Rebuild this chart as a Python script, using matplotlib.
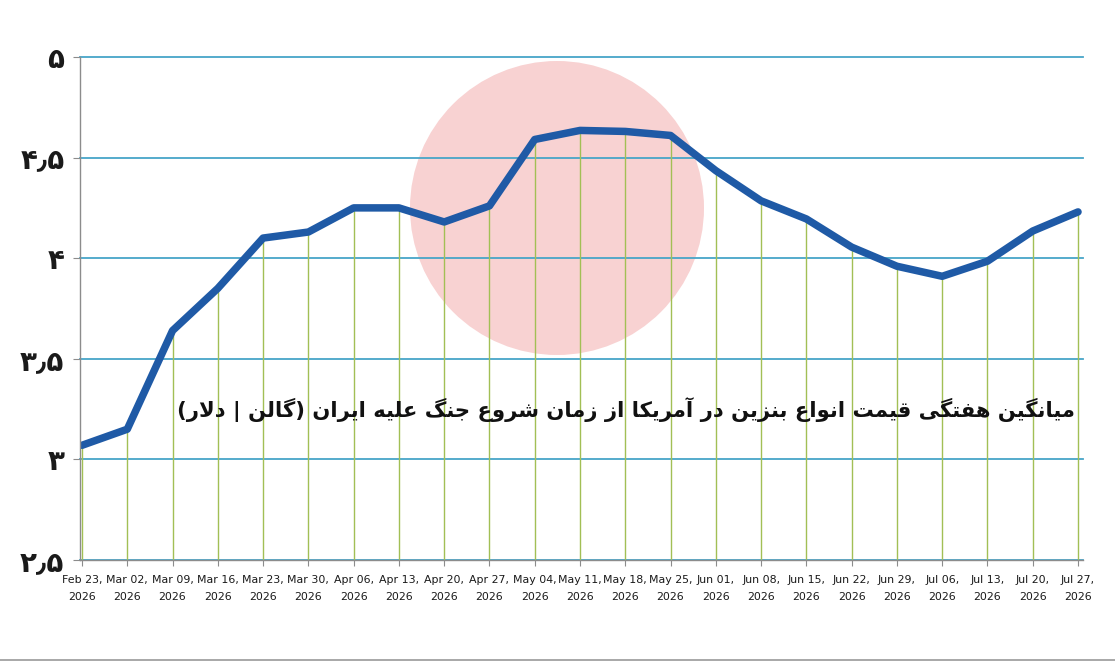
import matplotlib
matplotlib.use("Agg")
import matplotlib.pyplot as plt
from matplotlib.patches import Ellipse

# weekly average US gasoline price (USD per gallon)
dates = [
    "Feb 23", "Mar 02", "Mar 09", "Mar 16", "Mar 23", "Mar 30", "Apr 06", "Apr 13",
    "Apr 20", "Apr 27", "May 04", "May 11", "May 18", "May 25", "Jun 01", "Jun 08",
    "Jun 15", "Jun 22", "Jun 29", "Jul 06", "Jul 13", "Jul 20", "Jul 27",
]
year = "2026"
prices = [
    3.07, 3.15, 3.64, 3.85, 4.10, 4.13, 4.25, 4.25,
    4.18, 4.26, 4.59, 4.635, 4.63, 4.61, 4.435, 4.285,
    4.195, 4.055, 3.96, 3.91, 3.985, 4.135, 4.23,
]
y_ticks = [2.5, 3.0, 3.5, 4.0, 4.5, 5.0]
y_tick_labels = ["۲٫۵", "۳", "۳٫۵", "۴", "۴٫۵", "۵"]
title = "میانگین هفتگی قیمت انواع بنزین در آمریکا از زمان شروع جنگ علیه ایران (گالن | دلار)"


# matplotlib does no Arabic shaping, so pick contextual forms by hand
# letter: (isolated, final, initial, medial)
FORMS = {
    "ا": ("\uFE8D", "\uFE8E", None, None),
    "آ": ("\uFE81", "\uFE82", None, None),
    "ب": ("\uFE8F", "\uFE90", "\uFE91", "\uFE92"),
    "ت": ("\uFE95", "\uFE96", "\uFE97", "\uFE98"),
    "ج": ("\uFE9D", "\uFE9E", "\uFE9F", "\uFEA0"),
    "د": ("\uFEA9", "\uFEAA", None, None),
    "ر": ("\uFEAD", "\uFEAE", None, None),
    "ز": ("\uFEAF", "\uFEB0", None, None),
    "ش": ("\uFEB5", "\uFEB6", "\uFEB7", "\uFEB8"),
    "ع": ("\uFEC9", "\uFECA", "\uFECB", "\uFECC"),
    "ف": ("\uFED1", "\uFED2", "\uFED3", "\uFED4"),
    "ق": ("\uFED5", "\uFED6", "\uFED7", "\uFED8"),
    "ل": ("\uFEDD", "\uFEDE", "\uFEDF", "\uFEE0"),
    "م": ("\uFEE1", "\uFEE2", "\uFEE3", "\uFEE4"),
    "ن": ("\uFEE5", "\uFEE6", "\uFEE7", "\uFEE8"),
    "ه": ("\uFEE9", "\uFEEA", "\uFEEB", "\uFEEC"),
    "و": ("\uFEED", "\uFEEE", None, None),
    "ی": ("\uFBFC", "\uFBFD", "\uFBFE", "\uFBFF"),
    "ک": ("\uFB8E", "\uFB8F", "\uFB90", "\uFB91"),
    "گ": ("\uFB92", "\uFB93", "\uFB94", "\uFB95"),
}
LAM_ALEF = {"ا": ("\uFEFB", "\uFEFC"), "آ": ("\uFEF5", "\uFEF6")}
MIRROR = {"(": ")", ")": "("}


def joins_next(ch: str) -> bool:
    return ch in FORMS and FORMS[ch][2] is not None


def shape_rtl(text: str) -> str:
    out = []
    i = 0
    n = len(text)
    while i < n:
        ch = text[i]
        if ch not in FORMS:
            out.append(MIRROR.get(ch, ch))
            i += 1
            continue
        joined_before = i > 0 and joins_next(text[i - 1])
        if ch == "ل" and i + 1 < n and text[i + 1] in LAM_ALEF:
            iso, fin = LAM_ALEF[text[i + 1]]
            out.append(fin if joined_before else iso)
            i += 2
            continue
        joined_after = joins_next(ch) and i + 1 < n and text[i + 1] in FORMS
        iso, fin, ini, med = FORMS[ch]
        if joined_before and joined_after:
            out.append(med)
        elif joined_before:
            out.append(fin)
        elif joined_after:
            out.append(ini)
        else:
            out.append(iso)
        i += 1
    return "".join(reversed(out))


LINE_BLUE = "#1f5aa6"
GRID_BLUE = "#47a5c8"
STEM_GREEN = "#a2bf55"
AXIS_GREY = "#8c8c8c"

fig = plt.figure(figsize=(11.15, 6.61), dpi=100)
fig.patch.set_facecolor("white")
ax = fig.add_axes([0.0715, 0.1528, 0.8994, 0.761])
ax.set_facecolor("none")

x = list(range(len(dates)))

# faint logo disc behind the chart
ax.add_patch(Ellipse((557 / 1115, 1 - 208 / 661), 294 / 1115, 294 / 661,
                     transform=fig.transFigure, facecolor="#f8d2d2",
                     edgecolor="none", zorder=0))

ax.set_xlim(-0.05, 22.1)
ax.set_ylim(2.5, 5.0)
ax.set_yticks(y_ticks)
ax.yaxis.grid(True, color=GRID_BLUE, linewidth=1.3)
ax.set_axisbelow(True)

ax.vlines(x, 2.5, prices, color=STEM_GREEN, linewidth=1.0, zorder=2)
ax.plot(x, prices, color=LINE_BLUE, linewidth=5.4,
        solid_capstyle="round", solid_joinstyle="round", zorder=3)

for side in ["top", "right"]:
    ax.spines[side].set_visible(False)
for side in ["left", "bottom"]:
    ax.spines[side].set_color(AXIS_GREY)
    ax.spines[side].set_linewidth(1.0)
    ax.spines[side].set_zorder(4)

ax.set_yticklabels(y_tick_labels, fontsize=20, fontweight="bold",
                   family="DejaVu Sans", color="#1a1a1a")
ax.set_xticks(x)
ax.set_xticklabels([f"{d},\n{year}" for d in dates], fontsize=7.9,
                   family=["Liberation Sans Narrow", "DejaVu Sans"],
                   linespacing=1.85, color="#1a1a1a")
ax.tick_params(axis="x", length=4, width=0.8, color=AXIS_GREY, pad=7)
ax.tick_params(axis="y", length=5, width=0.8, color=AXIS_GREY, pad=6)

# keep the top gridline (at 5) fully drawn at the edge of the axes
fig.canvas.draw()
for gl in ax.get_ygridlines():
    gl.set_clip_on(False)

fig.text(1075 / 1115, 1 - 410 / 661, shape_rtl(title), ha="right", va="center",
         fontsize=15.2, fontweight="bold", family="DejaVu Sans", color="#111111",
         zorder=5)

# thin grey rule along the bottom edge of the image
fig.add_artist(plt.Line2D([0, 1], [0.002, 0.002], transform=fig.transFigure,
                          color="#9a9a9a", linewidth=1.2))

fig.savefig("out.png", dpi=100, facecolor="white")
